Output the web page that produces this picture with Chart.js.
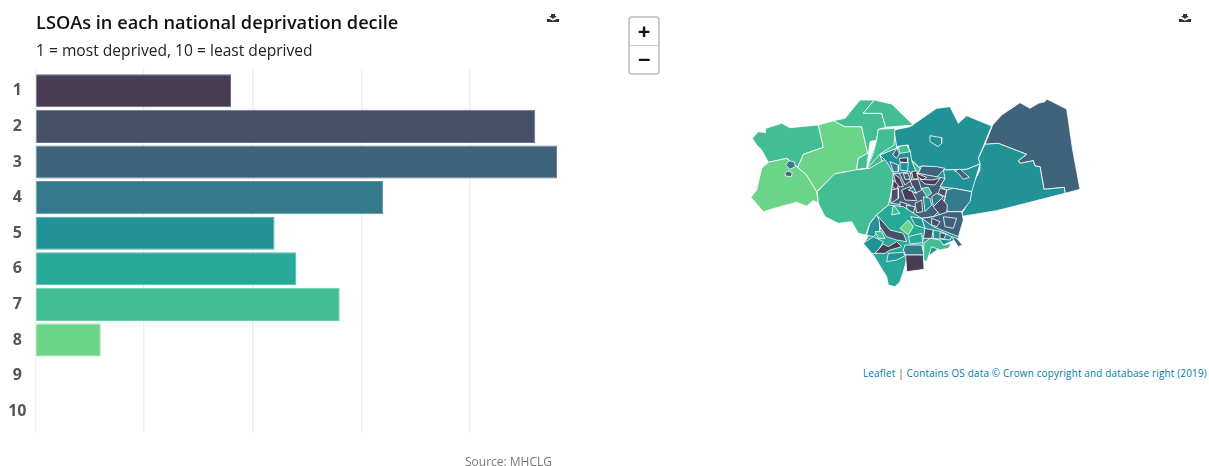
<!DOCTYPE html>
<html><head><meta charset="utf-8">
<script src="https://cdn.jsdelivr.net/npm/chart.js@4"></script>
<style>
html,body{margin:0;padding:0;background:#fff;width:1209px;height:466px;overflow:hidden;font-family:"Open Sans",sans-serif}
.t{position:absolute;white-space:nowrap}
#title{left:36px;top:10px;font-size:18.2px;font-weight:600;color:#111;line-height:24px}
#sub{left:36px;top:39px;font-size:15.6px;color:#222;line-height:22px}
#src{left:465px;top:454px;font-size:12px;color:#777;line-height:15px}
#attr{left:863px;top:367px;font-size:9.9px;color:#0078a8;line-height:13px;letter-spacing:.2px}
#attr span{color:#555}
#barWrap{position:absolute;left:0;top:0;width:600px;height:466px}
#mapWrap{position:absolute;left:740px;top:90px;width:350px;height:210px}
#zoom{position:absolute;left:628px;top:16px;width:28px;height:55px;border:2px solid rgba(0,0,0,.2);border-radius:4px;background:#fff}
#zoom div{height:27px;text-align:center;font:bold 20px/27px "DejaVu Sans Mono","Liberation Mono",monospace;color:#111}
#zoom div+div{border-top:1px solid #ccc}
.ic{position:absolute;top:14px;width:12px;height:8px}
</style></head><body>
<div id="barWrap"><canvas id="bars"></canvas></div>
<div id="mapWrap"><canvas id="map"></canvas></div>
<div class="t" id="title">LSOAs in each national deprivation decile</div>
<div class="t" id="sub">1 = most deprived, 10 = least deprived</div>
<div class="t" id="src">Source: MHCLG</div>
<div class="t" id="attr">Leaflet <span>|</span> Contains OS data © Crown copyright and database right (2019)</div>
<div id="zoom"><div>+</div><div>−</div></div>
<svg class="ic" style="left:547px" viewBox="0 0 12 8"><path d="M4 0h4v2h2L6 5 2 2h2zM0 5h2.500L6 6.800 9.500 5H12v3H0z" fill="#333"/></svg>
<svg class="ic" style="left:1179px" viewBox="0 0 12 8"><path d="M4 0h4v2h2L6 5 2 2h2zM0 5h2.500L6 6.800 9.500 5H12v3H0z" fill="#333"/></svg>
<script>
const deciles = ["1","2","3","4","5","6","7","8","9","10"];
const lsoaCounts = [18,46,48,32,22,24,28,6,0,0];
const decileColours = ["#483C55","#475069","#40637C","#327A8C","#219296","#26A999","#43BE94","#6CD488","#A0DA7A","#D5E26A"];
const gridTicks = [0,10,20,30,40];

// Map areas: [decile, vertices in map units], drawn in this order (later on top)
const areasBase = [
 [7,[[380,237],[410,150],[415,118],[465,115],[470,175],[420,195],[440,215],[462,260],[455,340],[445,350],[400,300]]],
 [5,[[420,195],[510,170],[545,228],[615,235],[700,300],[665,365],[670,390],[655,445],[610,465],[550,510],[490,480],[445,345],[455,300]]]
];
const areasRural = [
 [3,[[758,105],[785,75],[840,38],[870,55],[895,40],[915,35],[920,27],[980,57],[998,180],[1020,298],[975,310],[973,292],[912,298],[900,230],[885,228],[880,212],[840,220],[835,212],[860,193],[775,160],[735,163]]],
 [5,[[735,163],[775,160],[860,193],[835,212],[840,220],[880,212],[885,228],[900,230],[912,298],[973,292],[975,310],[770,362],[660,380],[690,330],[695,305],[690,300],[720,240],[720,222],[715,205]]],
 [5,[[462,120],[510,110],[590,55],[630,50],[655,100],[680,77],[755,108],[715,205],[720,222],[680,238],[615,240],[575,230],[545,228],[530,235],[510,205],[505,165],[470,170]]],
 [5,[[570,137],[605,143],[605,160],[595,170],[570,155]]],
 [7,[[37,145],[55,125],[75,128],[77,115],[125,100],[150,113],[235,105],[250,172],[190,193],[173,232],[140,205],[85,217],[65,180],[50,165]]],
 [8,[[85,217],[140,205],[173,232],[200,255],[230,305],[235,338],[220,332],[200,348],[170,337],[120,350],[70,365],[33,322],[50,300],[65,235]]],
 [8,[[235,105],[280,92],[315,110],[365,110],[375,155],[383,190],[355,205],[350,235],[345,252],[315,245],[285,252],[230,305],[200,255],[173,232],[190,193],[250,172]]],
 [7,[[280,92],[315,85],[360,30],[403,30],[370,70],[425,70],[437,112],[415,118],[410,150],[390,155],[380,235],[350,238],[355,205],[383,190],[365,110],[315,110]]],
 [7,[[403,30],[455,42],[520,105],[437,112],[425,70],[370,70]]],
 [7,[[415,118],[465,115],[462,165],[420,192],[380,237],[400,190],[410,150]]],
 [7,[[232,305],[283,252],[345,240],[390,235],[440,205],[462,250],[455,300],[445,345],[410,375],[390,400],[378,435],[355,430],[335,395],[295,400],[255,380],[235,340]]],
 [4,[[137,225],[147,212],[163,216],[166,230],[150,238]]],
 [3,[[135,250],[143,243],[157,248],[153,260],[137,258]]]
];
const areasNorthCore = [
 [5,[[420,195],[470,175],[510,180],[515,210],[545,240],[530,270],[460,250],[440,215]]],
 [3,[[458,195],[470,175],[478,190],[470,205]]],
 [7,[[475,170],[500,165],[510,185],[480,190]]],
 [1,[[478,205],[503,203],[503,218],[480,216]]],
 [5,[[480,218],[505,218],[503,243],[480,240]]],
 [4,[[450,215],[475,225],[475,245],[460,245]]],
 [7,[[515,212],[545,240],[530,250]]],
 [3,[[545,228],[590,230],[615,235],[590,262],[550,265],[535,250]]],
 [5,[[610,240],[680,238],[720,222],[695,305],[640,295],[600,290],[615,265]]],
 [3,[[643,242],[660,237],[688,262],[670,268],[655,250]]]
];
const areasCentre = [
 [3,[[460,250],[535,250],[615,265],[600,290],[620,300],[610,350],[580,380],[545,385],[510,370],[490,345],[455,340],[455,300]]],
 [1,[[460,250],[480,265],[490,290],[470,290]]],
 [1,[[460,270],[475,285],[470,300],[458,290]]],
 [2,[[478,250],[510,245],[515,270],[495,285]]],
 [3,[[490,250],[505,250],[510,268],[495,268]]],
 [1,[[515,245],[530,242],[535,265],[520,268]]],
 [1,[[530,250],[560,262],[548,270],[535,262]]],
 [1,[[540,268],[575,270],[600,265],[585,285],[555,282]]],
 [2,[[510,270],[535,268],[545,300],[525,310]]],
 [1,[[485,300],[510,290],[530,332],[495,330]]],
 [5,[[505,300],[520,290],[530,310]]],
 [2,[[455,300],[475,295],[475,325],[452,340]]],
 [2,[[480,335],[510,345],[500,375],[480,355]]],
 [3,[[498,345],[525,350],[520,370],[505,368]]],
 [7,[[545,295],[565,292],[575,310],[560,320]]],
 [5,[[550,320],[570,325],[575,345],[555,365]]],
 [4,[[575,320],[590,310],[610,320],[580,350]]],
 [2,[[600,295],[620,300],[615,320],[595,310]]],
 [2,[[525,340],[545,330],[548,365],[530,368]]],
 [4,[[620,300],[640,295],[695,305],[690,335],[665,365],[625,365],[610,350]]],
 [2,[[580,350],[605,325],[622,345],[620,370],[600,375]]],
 [3,[[545,385],[580,380],[625,365],[665,365],[670,390],[655,440],[605,420],[580,410]]],
 [2,[[575,385],[600,395],[590,410],[575,405]]],
 [3,[[610,380],[650,385],[640,415],[615,410]]],
 [3,[[635,440],[650,445],[667,465],[655,470]]],
 [2,[[553,415],[580,420],[575,445],[550,445]]],
 [2,[[520,410],[540,398],[545,425],[530,422]]],
 [5,[[580,420],[605,425],[635,440],[630,450],[580,445]]],
 [2,[[600,428],[618,432],[612,447],[600,445]]],
 [7,[[552,458],[570,445],[600,450],[610,465],[635,460],[625,475],[600,480],[575,470],[560,515],[550,510]]]
];
const areasSouth = [
 [6,[[410,375],[445,345],[490,350],[545,385],[555,415],[548,458],[552,515],[500,510],[490,545],[480,575],[465,590],[445,585],[440,560],[400,495],[370,460],[385,440],[378,435],[390,400]]],
 [5,[[370,460],[400,440],[430,455],[410,490],[395,490]]],
 [5,[[380,435],[390,400],[410,375],[420,395],[420,420],[400,440]]],
 [7,[[405,425],[425,425],[435,445],[415,445]]],
 [2,[[415,380],[450,420],[490,430],[500,455],[470,450],[440,440],[420,410]]],
 [1,[[405,490],[430,462],[445,470],[470,455],[485,470],[450,480],[435,490]]],
 [4,[[495,465],[545,465],[552,495],[497,495],[490,480]]],
 [1,[[497,495],[550,495],[552,538],[500,545]]],
 [5,[[445,490],[490,487],[495,497],[470,510],[440,515]]],
 [8,[[480,415],[505,390],[520,410],[505,435]]],
 [5,[[512,380],[545,385],[555,415],[525,405]]],
 [7,[[460,345],[480,370],[455,375]]],
 [6,[[505,440],[545,430],[548,458],[510,462]]]
];

new Chart(document.getElementById('bars'),{
 type:'bar',
 data:{labels:deciles,datasets:[{
  data:lsoaCounts,
  backgroundColor:decileColours,
  borderColor:decileColours.map(c=>c+'cc'),
  borderWidth:c=>c.raw>0?1:0,
  barPercentage:.93,categoryPercentage:1,xAxisID:'x',yAxisID:'y'}]},
 options:{
  indexAxis:'y',responsive:true,maintainAspectRatio:false,animation:false,
  layout:{padding:{top:69,bottom:33,left:0,right:43}},
  plugins:{legend:{display:false},tooltip:{enabled:false}},
  scales:{
   x:{type:'linear',position:'bottom',min:0,max:48,
      afterBuildTicks:s=>{s.ticks=gridTicks.map(v=>({value:v}))},
      ticks:{display:false},border:{display:false},
      grid:{color:'#eeeeee',lineWidth:1.4,tickLength:4}},
   x2:{type:'linear',position:'top',min:0,max:48,
      afterBuildTicks:s=>{s.ticks=gridTicks.map(v=>({value:v}))},
      ticks:{display:false},border:{display:false},
      grid:{color:'#eeeeee',lineWidth:1.4,tickLength:4,drawOnChartArea:false}},
   y:{type:'category',position:'left',
      afterFit:s=>{s.width=35.5},
      border:{display:false},grid:{display:false,drawTicks:false},
      ticks:{color:'#555',crossAlign:'center',padding:9,font:{family:'"Open Sans"',size:16,weight:'700'}}}
  }
 }
});

const allAreas = [...areasBase,...areasRural,...areasNorthCore,...areasCentre,...areasSouth];
new Chart(document.getElementById('map'),{
 type:'scatter',
 data:{datasets:allAreas.slice().reverse().map(([d,v])=>({
   data:[...v,v[0]].map(([x,y])=>({x,y})),
   showLine:true,fill:'shape',tension:0,pointRadius:0,
   backgroundColor:decileColours[d-1],
   borderColor:'rgba(255,255,255,.8)',borderWidth:1
 }))},
 options:{
  responsive:true,maintainAspectRatio:false,animation:false,
  layout:{padding:0},
  plugins:{legend:{display:false},tooltip:{enabled:false}},
  scales:{x:{type:'linear',display:false,min:0,max:1050},
          y:{type:'linear',display:false,min:0,max:630,reverse:true}}
 }
});
</script></body></html>
